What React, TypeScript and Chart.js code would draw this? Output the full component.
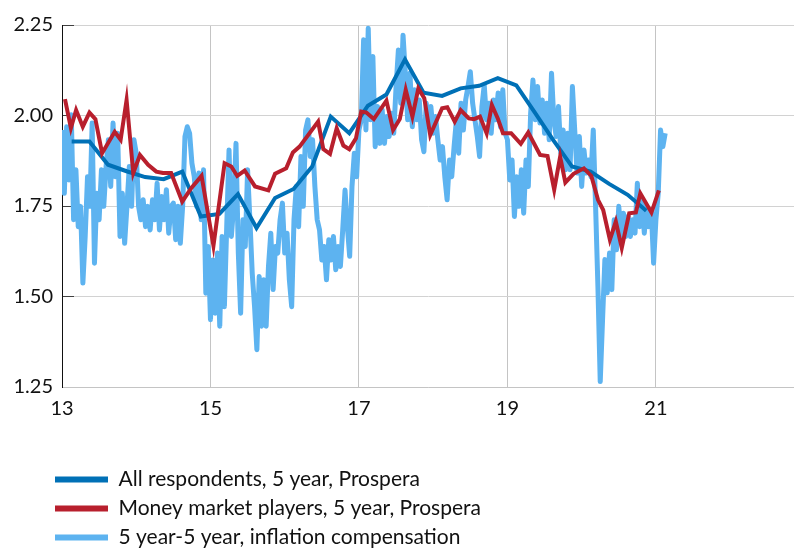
import React, { useEffect, useRef } from "react";
import { Chart, registerables } from "chart.js";

Chart.register(...registerables);

const X_TICKS = [13, 15, 17, 19, 21];
const Y_TICKS = [1.25, 1.5, 1.75, 2.0, 2.25];

const SERIES_LABELS = [
  "All respondents, 5 year, Prospera",
  "Money market players, 5 year, Prospera",
  "5 year-5 year, inflation compensation",
];

// All respondents (quarterly survey)
const ALL_X = [
  13.13, 13.37, 13.62, 13.87, 14.12, 14.37, 14.62, 14.87, 15.12, 15.37, 15.62, 15.87,
  16.12, 16.37, 16.62, 16.87, 17.12, 17.37, 17.62, 17.87, 18.12, 18.37, 18.62, 18.87,
  19.12, 19.37, 19.62, 19.87, 20.12, 20.37, 20.62, 20.87,
];
const ALL_Y = [
  1.928, 1.928, 1.864, 1.846, 1.83, 1.824, 1.845, 1.721, 1.728, 1.783, 1.689, 1.772,
  1.797, 1.859, 1.997, 1.951, 2.027, 2.058, 2.155, 2.063, 2.054, 2.075, 2.082, 2.103,
  2.083, 2.008, 1.931, 1.859, 1.845, 1.811, 1.781, 1.737,
];

// Money market players
const MMP_X = [
  13.04, 13.12, 13.19, 13.28, 13.37, 13.45, 13.54, 13.71, 13.79, 13.87, 13.96, 14.05,
  14.16, 14.27, 14.36, 14.47, 14.62, 14.74, 14.88, 15.04, 15.19, 15.28, 15.36, 15.46,
  15.6, 15.78, 15.87, 16.02, 16.11, 16.2, 16.45, 16.52, 16.61, 16.7, 16.79, 16.87,
  16.96, 17.03, 17.1, 17.2, 17.37, 17.46, 17.55, 17.63, 17.72, 17.8, 17.88, 17.96,
  18.12, 18.19, 18.29, 18.37, 18.48, 18.55, 18.63, 18.72, 18.79, 18.87, 18.94, 19.05,
  19.18, 19.28, 19.44, 19.54, 19.63, 19.71, 19.78, 19.89, 20.03, 20.13, 20.22, 20.29,
  20.38, 20.46, 20.54, 20.64, 20.73, 20.79, 20.94, 21.04,
];
const MMP_Y = [
  2.045, 1.965, 2.015, 1.969, 2.008, 1.99, 1.896, 1.955, 1.933, 2.043, 1.841, 1.891,
  1.864, 1.845, 1.841, 1.841, 1.762, 1.799, 1.833, 1.64, 1.868, 1.859, 1.833, 1.848,
  1.804, 1.793, 1.839, 1.854, 1.898, 1.914, 1.983, 1.907, 1.894, 1.965, 1.917, 1.907,
  1.937, 2.011, 2.008, 1.99, 2.041, 1.96, 1.99, 2.071, 1.997, 2.075, 2.048, 1.946,
  2.02, 2.023, 1.983, 2.015, 1.992, 1.99, 1.997, 1.951, 2.029, 1.992, 1.951, 1.951,
  1.922, 1.953, 1.891, 1.888, 1.795, 1.886, 1.815, 1.839, 1.854, 1.833, 1.767, 1.739,
  1.657, 1.707, 1.634, 1.73, 1.732, 1.785, 1.732, 1.793,
];

// 5y5y inflation compensation, sampled every 1/32 year from 2013
const COMP_START = 13;
const COMP_STEP = 1 / 32;
const COMP_Y = [
  1.96, 1.785, 1.969, 1.822, 2.002, 1.712, 1.85, 1.693, 1.749, 1.537,
  1.666, 1.831, 1.749, 1.979, 1.592, 1.785, 1.712, 1.85, 1.749, 1.859,
  1.933, 1.804, 1.979, 1.831, 1.951, 1.666, 1.785, 1.647, 1.749, 1.859,
  1.749, 1.933, 1.896, 1.749, 1.712, 1.767, 1.693, 1.749, 1.684, 1.767,
  1.712, 1.813, 1.684, 1.776, 1.712, 1.795, 1.675, 1.749, 1.758, 1.657,
  1.749, 1.647, 1.749, 1.942, 1.969, 1.951, 1.868, 1.831, 1.749, 1.841,
  1.712, 1.85, 1.509, 1.638, 1.436,
  1.601, 1.454, 1.62, 1.418, 1.666, 1.472, 1.693, 1.905, 1.666, 1.749,
  1.923, 1.62, 1.454, 1.712, 1.638, 1.85, 1.712, 1.564, 1.472, 1.353,
  1.555, 1.418, 1.546, 1.418, 1.583, 1.675, 1.519, 1.638, 1.62, 1.712,
  1.758, 1.62, 1.675, 1.546, 1.472, 1.712, 1.804, 1.693, 1.887, 1.749,
  1.96, 1.988, 1.887, 1.933, 1.804, 1.712, 1.684, 1.601, 1.638, 1.546,
  1.657, 1.601, 1.666, 1.574, 1.638, 1.583, 1.684, 1.794, 1.693, 1.611,
  1.804, 1.896, 1.831,
  1.96, 1.988, 2.209, 1.96, 2.241, 1.988, 2.163, 1.914, 2.025, 1.923,
  2.016, 1.923, 1.997, 1.942, 2.006, 1.951, 2.08, 2.181, 2.034, 2.222,
  2.117, 1.988, 2.117, 1.969, 2.071, 1.988, 2.043, 1.933, 1.9, 2.034,
  1.969, 2.025, 1.951, 1.997, 1.933, 1.877, 1.914, 1.831, 1.767, 1.877,
  1.831, 1.914, 1.988, 1.896, 2.034, 1.96, 2.043, 2.08, 2.121, 2.034,
  1.988, 1.942, 1.887, 2.025, 2.084, 1.988, 2.034, 1.951, 2.043, 1.988,
  2.062, 1.969, 2.071, 1.951,
  1.933, 1.822, 1.877, 1.721, 1.831, 1.749, 1.85, 1.73, 1.877, 1.804,
  2.006, 2.098, 1.988, 2.08, 1.979, 2.043, 1.951, 2.034, 1.933, 2.117,
  1.988, 1.942, 2.025, 1.896, 1.96, 1.85, 1.951, 1.85, 2.08, 1.96,
  1.841, 1.942, 1.804, 1.905, 1.841, 1.877, 1.831, 1.96, 1.749, 1.528,
  1.265, 1.436, 1.602, 1.51, 1.62, 1.519, 1.712, 1.629, 1.749, 1.666,
  1.73, 1.666, 1.721, 1.666, 1.712, 1.675, 1.813, 1.693, 1.767, 1.675,
  1.749, 1.693, 1.74, 1.592, 1.712, 1.785, 1.96, 1.914, 1.951,
];

const BLUE = "#0070b6";
const RED = "#b81f2d";
const LIGHT = "#5db3f0";
const FONT = "Lato, 'Open Sans', sans-serif";

// lets the y-axis labels use the space left of the layout padding
const widenYLabelArea = {
  id: "widenYLabelArea",
  afterLayout(chart: any) {
    if (chart.scales.y) chart.scales.y.left = 0;
  },
};

export default function App() {
  const ref = useRef<HTMLCanvasElement>(null);

  useEffect(() => {
    const canvas = ref.current;
    if (!canvas) return;
    const chart = new Chart(canvas, {
      type: "line",
      plugins: [widenYLabelArea],
      data: {
        datasets: [
          {
            label: SERIES_LABELS[0],
            data: ALL_X.map((x, i) => ({ x, y: ALL_Y[i] })),
            borderColor: BLUE,
            backgroundColor: BLUE,
            borderWidth: 4,
            pointRadius: 0,
            tension: 0,
            order: 1,
          },
          {
            label: SERIES_LABELS[1],
            data: MMP_X.map((x, i) => ({ x, y: MMP_Y[i] })),
            borderColor: RED,
            backgroundColor: RED,
            borderWidth: 4,
            pointRadius: 0,
            tension: 0,
            order: 0,
          },
          {
            label: SERIES_LABELS[2],
            data: COMP_Y.map((y, i) => ({ x: COMP_START + i * COMP_STEP, y })),
            borderColor: LIGHT,
            backgroundColor: LIGHT,
            borderWidth: 5,
            borderJoinStyle: "round",
            pointRadius: 0,
            tension: 0,
            order: 2,
          },
        ],
      },
      options: {
        animation: false,
        responsive: false,
        devicePixelRatio: 1,
        layout: { padding: { left: 47, top: 25, right: 0, bottom: -7 } },
        scales: {
          x: {
            type: "linear",
            min: 13,
            max: 22.86,
            afterBuildTicks: (s: any) => {
              s.ticks = X_TICKS.map((v) => ({ value: v }));
            },
            afterFit: (s: any) => {
              s.height = 74;
            },
            grid: {
              color: (ctx: any) => (ctx.tick && ctx.tick.value === 13 ? "rgba(0,0,0,0)" : "#c4c4c4"),
              drawTicks: false,
            },
            border: { color: "#c4c4c4" },
            ticks: {
              padding: 10,
              color: "#111",
              font: { family: FONT, size: 20 },
              callback: (v: any) => String(v),
            },
          },
          y: {
            type: "linear",
            min: 1.25,
            max: 2.25,
            afterBuildTicks: (s: any) => {
              s.ticks = Y_TICKS.map((v) => ({ value: v }));
            },
            afterFit: (s: any) => {
              s.width = 15;
              s.paddingTop = 0;
              s.paddingBottom = 0;
            },
            grid: {
              color: "#d2d2d2",
              tickColor: "#404040",
              tickLength: -12,
            },
            border: { color: "#111" },
            ticks: {
              padding: 21,
              color: "#111",
              font: { family: FONT, size: 20 },
              callback: (v: any) => Number(v).toFixed(2),
            },
          },
        },
        plugins: {
          tooltip: { enabled: false },
          legend: {
            position: "bottom",
            align: "start",
            labels: {
              boxWidth: 53,
              boxHeight: 6,
              padding: 8,
              color: "#111",
              font: { family: FONT, size: 21 },
              sort: (a: any, b: any) => a.datasetIndex - b.datasetIndex,
              generateLabels: (c: any) =>
                Chart.defaults.plugins.legend.labels
                  .generateLabels(c)
                  .map((l: any) => ({ ...l, lineWidth: 0, fillStyle: l.strokeStyle })),
            },
          },
        },
      },
    } as any);
    return () => chart.destroy();
  }, []);

  return (
    <div style={{ position: "absolute", left: 0, top: 0, width: 794, height: 551, background: "#fff" }}>
      <canvas ref={ref} width={794} height={551} style={{ display: "block" }} />
    </div>
  );
}
